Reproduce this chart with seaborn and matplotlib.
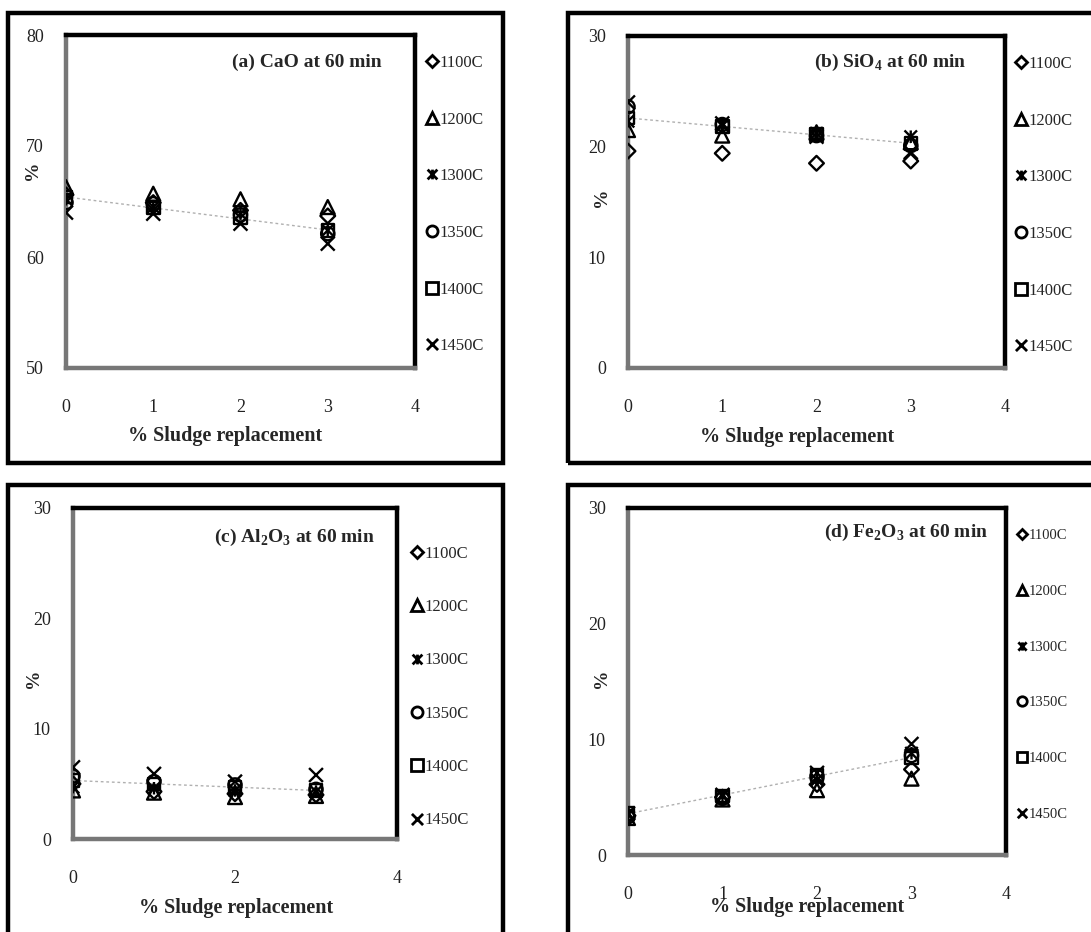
import numpy as np
import pandas as pd
import matplotlib
matplotlib.use("Agg")
import matplotlib.pyplot as plt
import seaborn as sns
from matplotlib.path import Path
from matplotlib.lines import Line2D
from matplotlib.patches import Rectangle

sns.set_style("white")
plt.rcParams['font.family'] = ['Liberation Serif', 'DejaVu Serif']
plt.rcParams['mathtext.fontset'] = 'custom'
plt.rcParams['mathtext.rm'] = 'Liberation Serif'
plt.rcParams['mathtext.bf'] = 'Liberation Serif:bold'

# 数据
sludge = [0, 1, 2, 3]
temps = ['1100C', '1200C', '1300C', '1350C', '1400C', '1450C']

cao_1100 = [65.6, 64.9, 64.2, 63.7]
cao_1200 = [66.3, 65.7, 65.2, 64.5]
cao_1300 = [65.2, 64.5, 63.9, 62.4]
cao_1350 = [64.9, 64.8, 63.8, 62.1]
cao_1400 = [65.4, 64.4, 63.5, 62.4]
cao_1450 = [64.0, 63.9, 63.0, 61.2]

sio_1100 = [19.6, 19.4, 18.5, 18.7]
sio_1200 = [21.5, 21.0, 21.3, 20.4]
sio_1300 = [22.3, 21.9, 21.2, 20.9]
sio_1350 = [23.6, 22.0, 21.0, 20.1]
sio_1400 = [22.6, 21.8, 21.1, 20.3]
sio_1450 = [24.0, 22.1, 20.9, 19.5]

al_1100 = [5.0, 4.3, 4.1, 4.0]
al_1200 = [4.4, 4.2, 3.8, 3.9]
al_1300 = [4.7, 4.6, 4.4, 4.3]
al_1350 = [5.7, 5.2, 4.9, 4.5]
al_1400 = [5.3, 5.0, 4.7, 4.4]
al_1450 = [6.5, 5.9, 5.2, 5.8]

fe_1100 = [3.4, 5.0, 6.1, 7.4]
fe_1200 = [3.2, 4.8, 5.6, 6.6]
fe_1300 = [3.5, 5.1, 6.5, 8.8]
fe_1350 = [3.3, 4.9, 6.8, 8.6]
fe_1400 = [3.6, 5.1, 6.9, 8.4]
fe_1450 = [3.6, 5.2, 7.1, 9.6]

cao = [cao_1100, cao_1200, cao_1300, cao_1350, cao_1400, cao_1450]
sio = [sio_1100, sio_1200, sio_1300, sio_1350, sio_1400, sio_1450]
al = [al_1100, al_1200, al_1300, al_1350, al_1400, al_1450]
fe = [fe_1100, fe_1200, fe_1300, fe_1350, fe_1400, fe_1450]

titles = [r'(a) CaO at 60 min',
          r'(b) SiO$_\mathbf{4}$ at 60 min',
          r'(c) Al$_\mathbf{2}$O$_\mathbf{3}$ at 60 min',
          r'(d) Fe$_\mathbf{2}$O$_\mathbf{3}$ at 60 min']
ylims = [(50, 80), (0, 30), (0, 30), (0, 30)]
yticks = [[50, 60, 70, 80], [0, 10, 20, 30], [0, 10, 20, 30], [0, 10, 20, 30]]
xticks = [[0, 1, 2, 3, 4], [0, 1, 2, 3, 4], [0, 2, 4], [0, 1, 2, 3, 4]]

# Excel 风格的 "star" 和 "x" 标记
star_path = Path([(-1, -1), (1, 1), (-1, 1), (1, -1), (0, -1), (0, 1)],
                 [Path.MOVETO, Path.LINETO, Path.MOVETO, Path.LINETO, Path.MOVETO, Path.LINETO])
x_path = Path([(-1, -1), (1, 1), (-1, 1), (1, -1)],
              [Path.MOVETO, Path.LINETO, Path.MOVETO, Path.LINETO])
markers = {'1100C': 'D', '1200C': '^', '1300C': star_path,
           '1350C': 'o', '1400C': 's', '1450C': x_path}
msizes = {'1100C': 7.5, '1200C': 10, '1300C': 9, '1350C': 9.5, '1400C': 9, '1450C': 10}
legsizes = {'1100C': 6.5, '1200C': 8.5, '1300C': 7, '1350C': 8, '1400C': 8, '1450C': 8}


def to_frame(series):
    rows = []
    for t, vals in zip(temps, series):
        for x, v in zip(sludge, vals):
            rows.append({'sludge': x, 'value': v, 'temp': t})
    return pd.DataFrame(rows)


fig = plt.figure(figsize=(10.91, 9.32), dpi=100)

# 每个子图外面的黑色粗框
for (x0, y0, w, h) in [(8, 13, 495, 450), (568, 13, 540, 450),
                       (8, 485, 495, 470), (568, 485, 540, 470)]:
    fig.patches.append(Rectangle((x0 / 1091, 1 - (y0 + h) / 932), w / 1091, h / 932,
                                 transform=fig.transFigure, fill=False,
                                 edgecolor='black', linewidth=3.2))

# 轴的位置 (像素)
boxes = [(66, 35, 349, 333), (628, 36, 377, 332), (73, 508, 324, 331), (628, 508, 378, 347)]
title_pos = [(0.905, 0.919), (0.897, 0.919), (0.932, 0.912), (0.952, 0.931)]
xlab_pos = [(0.456, -0.204), (0.448, -0.207), (0.503, -0.208), (0.475, -0.150)]
ylab_pos = [(-0.095, 0.595), (-0.069, 0.514), (-0.123, 0.486), (-0.069, 0.51)]
leg_pos = [(1.034, 0.94), (1.03, 0.94), (1.047, 0.886), (1.03, 0.94)]
leg_fs = [12, 12, 12, 10.5]
leg_sp = [2.44, 2.44, 2.24, 2.92]
leg_scale = [1.0, 1.0, 1.0, 0.85]

for i, series in enumerate([cao, sio, al, fe]):
    l, t, w, h = boxes[i]
    ax = fig.add_axes([l / 1091, 1 - (t + h) / 932, w / 1091, h / 932])
    df = to_frame(series)
    for temp in temps:
        sub = df[df['temp'] == temp]
        sns.scatterplot(data=sub, x='sludge', y='value', marker=markers[temp],
                        s=msizes[temp] ** 2, facecolor='none', edgecolor='black',
                        linewidth=1.7, ax=ax, legend=False, zorder=3)
    # 趋势线 (1400C)
    sns.regplot(data=df[df['temp'] == '1400C'], x='sludge', y='value', scatter=False,
                ci=None, ax=ax, line_kws=dict(color='#b0b0b0', lw=1, ls=(0, (2, 2))))

    ax.set_xlim(0, 4)
    ax.set_ylim(*ylims[i])
    ax.set_xticks(xticks[i])
    ax.set_yticks(yticks[i])
    ax.tick_params(axis='both', direction='out', length=4, width=1.2, color='#888888',
                   labelsize=13, labelcolor='#222222')
    ax.tick_params(axis='x', pad=18)
    ax.tick_params(axis='y', pad=12)
    for side in ['top', 'right']:
        ax.spines[side].set_color('black')
        ax.spines[side].set_linewidth(3.2)
    for side in ['left', 'bottom']:
        ax.spines[side].set_color('#777777')
        ax.spines[side].set_linewidth(3.2)

    ax.set_xlabel('% Sludge replacement', fontsize=14.5, fontweight='bold', va='center')
    ax.xaxis.set_label_coords(*xlab_pos[i])
    ax.set_ylabel('%', fontsize=14, fontweight='bold', va='center')
    ax.yaxis.set_label_coords(*ylab_pos[i])
    ax.text(title_pos[i][0], title_pos[i][1], titles[i], transform=ax.transAxes,
            ha='right', va='center', fontsize=14, fontweight='bold')

    handles = [Line2D([], [], linestyle='none', marker=markers[tp],
                      markersize=legsizes[tp] * leg_scale[i],
                      markerfacecolor='none', markeredgecolor='black', markeredgewidth=2)
               for tp in temps]
    ax.legend(handles, temps, loc='upper left', bbox_to_anchor=leg_pos[i], frameon=False,
              fontsize=leg_fs[i], labelspacing=leg_sp[i], handlelength=0.6,
              handletextpad=0.15, borderpad=0, borderaxespad=0)

fig.savefig('out.png', dpi=100)
